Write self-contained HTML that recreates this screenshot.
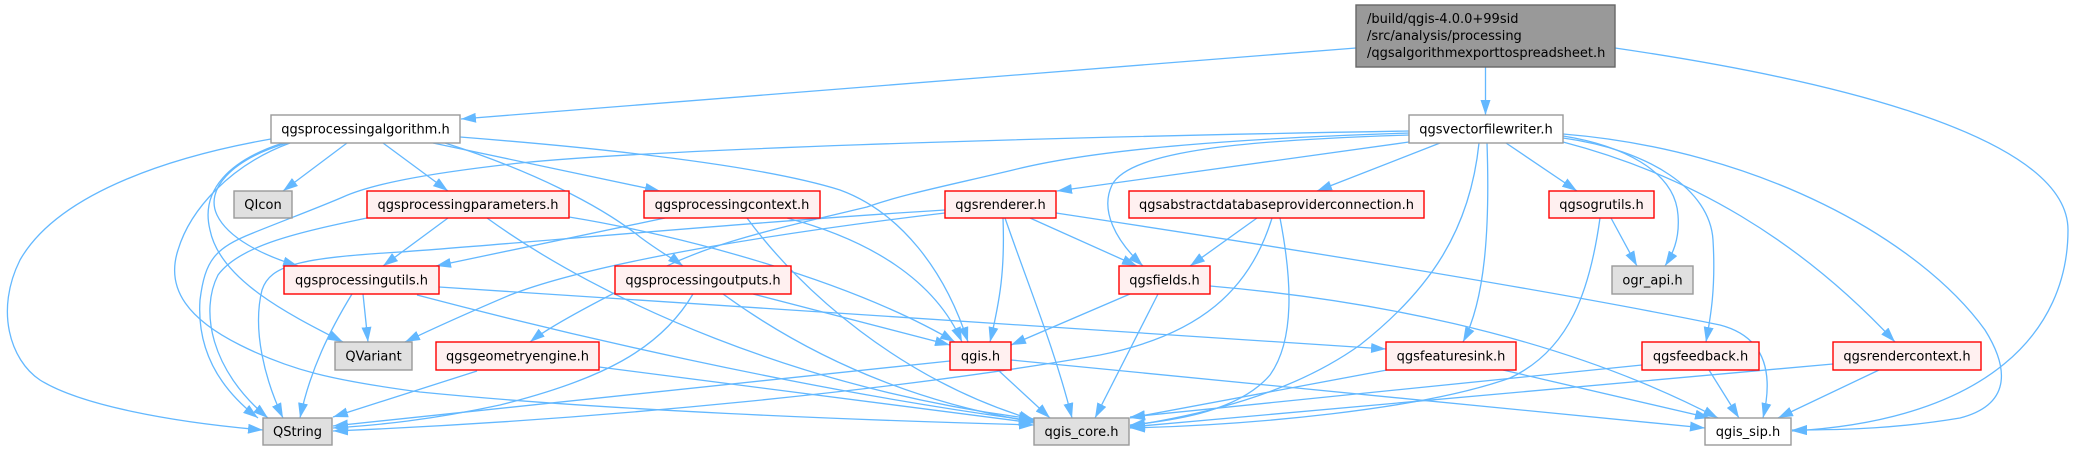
<!DOCTYPE html>
<html>
<head>
<meta charset="utf-8">
<style>
html,body{margin:0;padding:0;background:#fff;}
svg{display:block;}
.e{fill:none;stroke:#63b8ff;stroke-width:1.3;marker-end:url(#ah);}
.n text{font-family:"DejaVu Sans","Liberation Sans",sans-serif;font-size:13px;fill:#000;text-anchor:middle;}
.w{fill:#fff;stroke:#999;stroke-width:1.4;}
.g{fill:#e0e0e0;stroke:#999;stroke-width:1.4;}
.r{fill:#fff0f0;stroke:#ff0000;stroke-width:1.4;}
.t{fill:#999;stroke:#666;stroke-width:1.4;}
</style>
</head>
<body>
<svg width="2074" height="451" viewBox="0 0 2074 451" xmlns="http://www.w3.org/2000/svg">
<defs>
<marker id="ah" markerWidth="15" markerHeight="10" refX="15" refY="5" orient="auto" markerUnits="userSpaceOnUse">
<path d="M0,0 L15,5 L0,10 z" fill="#63b8ff"/>
</marker>
</defs>
<rect width="2074" height="451" fill="#fff"/>

<g>
<!-- Top node edges -->
<path class="e" d="M1356,48 L461,119"/>
<path class="e" d="M1485.5,67 L1485.5,115"/>
<path class="e" d="M1615,48 C1800,75 2068,130 2068,230 C2068,330 1990,420 1792,431"/>

<!-- qgsvectorfilewriter.h edges -->
<path class="e" d="M1409,131 C1000,138 650,150 520,163 C420,174 370,185 343,197 C320,207 280,222 253,233 C215,248 205,260 200,300 C197,345 215,385 258,418"/>
<path class="e" d="M1409,133 C1250,138 1100,148 1013,170 C950,185 900,195 867,207 C770,230 700,245 640,280 C580,310 545,330 530,342"/>
<path class="e" d="M1409,135 C1250,140 1130,150 1112,185 C1100,210 1115,240 1143,266"/>
<path class="e" d="M1409,142 L1057,191"/>
<path class="e" d="M1440,143 L1317,191"/>
<path class="e" d="M1506,143 L1577,191"/>
<path class="e" d="M1563,136 C1620,145 1675,170 1678,215 C1680,240 1672,255 1665,266"/>
<path class="e" d="M1563,138 C1650,150 1710,190 1713,240 C1716,290 1710,320 1706,342"/>
<path class="e" d="M1563,142 C1690,175 1800,240 1895,342"/>
<path class="e" d="M1563,134 C1760,150 1920,240 1985,330 C2010,370 2010,405 1960,418 C1900,428 1850,430 1792,430"/>
<path class="e" d="M1479,143 C1470,230 1430,290 1360,345 C1290,395 1200,415 1130,426"/>
<path class="e" d="M1487,143 C1490,230 1485,300 1463,342"/>

<!-- qgsprocessingalgorithm.h edges -->
<path class="e" d="M271,139 C180,155 60,190 20,260 C-5,310 10,360 40,380 C80,405 170,422 263,430"/>
<path class="e" d="M347,143 L283,191"/>
<path class="e" d="M383,143 L448,191"/>
<path class="e" d="M287,143 C230,160 205,190 217,215 C228,238 262,255 298,266"/>
<path class="e" d="M283,143 C230,160 200,190 210,230 C220,280 290,315 343,342"/>
<path class="e" d="M290,143 C230,165 190,210 178,250 C165,290 190,320 240,345 C290,370 330,380 420,392 C600,410 850,420 1034,425"/>
<path class="e" d="M433,143 L660,191"/>
<path class="e" d="M445,143 C530,170 600,205 640,237 C660,252 675,260 683,266"/>
<path class="e" d="M460,137 C600,148 760,165 840,190 C900,212 945,270 968,342"/>

<!-- qgsprocessingparameters.h -->
<path class="e" d="M367,218 C300,232 240,245 218,275 C200,310 210,370 268,418"/>
<path class="e" d="M448,218 L383,266"/>
<path class="e" d="M569,217 C680,235 850,280 955,342"/>
<path class="e" d="M487,218 C600,300 800,390 1034,419"/>

<!-- qgsprocessingcontext.h -->
<path class="e" d="M665,218 L436,266"/>
<path class="e" d="M747,218 C800,290 900,380 1034,420"/>
<path class="e" d="M787,218 C870,240 935,280 962,342"/>

<!-- qgsprocessingutils.h -->
<path class="e" d="M352,294 C330,330 310,370 300,418"/>
<path class="e" d="M363,294 L368,342"/>
<path class="e" d="M439,287 L1386,349"/>
<path class="e" d="M417,295 C550,330 800,390 1034,421"/>

<!-- qgsprocessingoutputs.h -->
<path class="e" d="M693,294 C660,350 600,380 500,405 C430,420 380,425 333,428"/>
<path class="e" d="M723,294 C800,350 900,400 1034,422"/>
<path class="e" d="M753,294 L950,345"/>

<!-- qgsgeometryengine.h -->
<path class="e" d="M477,371 L333,417"/>
<path class="e" d="M599,367 L1034,423"/>

<!-- qgis.h -->
<path class="e" d="M998,370 L1050,418"/>
<path class="e" d="M1011,360 L1705,428"/>
<path class="e" d="M950,361 L333,426"/>

<!-- qgsrenderer.h -->
<path class="e" d="M945,210 C750,222 500,245 400,252 C300,258 270,265 262,290 C252,330 265,380 283,418"/>
<path class="e" d="M945,213 C800,230 600,260 510,295 C470,312 430,330 405,342"/>
<path class="e" d="M1003,218 C1005,270 1000,300 990,342"/>
<path class="e" d="M1005,218 C1030,290 1055,350 1072,418"/>
<path class="e" d="M1030,218 L1137,266"/>
<path class="e" d="M1056,213 C1300,250 1550,290 1720,325 C1770,338 1772,380 1763,418"/>

<!-- qgsfields.h -->
<path class="e" d="M1130,294 L1011,345"/>
<path class="e" d="M1158,294 L1095,418"/>
<path class="e" d="M1210,286 C1350,298 1550,330 1718,418"/>

<!-- qgsabstractdatabaseproviderconnection.h -->
<path class="e" d="M1257,218 L1190,266"/>
<path class="e" d="M1272,218 C1250,290 1200,335 1100,355 C900,390 600,420 333,431"/>
<path class="e" d="M1280,218 C1292,280 1295,340 1270,375 C1240,410 1180,420 1130,425"/>

<!-- qgsogrutils.h -->
<path class="e" d="M1611,218 L1637,266"/>
<path class="e" d="M1600,218 C1590,290 1570,350 1510,378 C1420,410 1250,425 1130,428"/>

<!-- qgsfeaturesink.h -->
<path class="e" d="M1387,370 L1130,418"/>
<path class="e" d="M1503,370 L1710,418"/>

<!-- qgsfeedback.h -->
<path class="e" d="M1642,365 L1130,417"/>
<path class="e" d="M1709,370 L1739,418"/>

<!-- qgsrendercontext.h -->
<path class="e" d="M1833,364 L1130,427"/>
<path class="e" d="M1879,370 L1778,418"/>
</g>

<g class="n">
<rect class="t" x="1356" y="5" width="259" height="62"/>
<text x="1367" y="23" style="text-anchor:start">/build/qgis-4.0.0+99sid</text>
<text x="1367" y="40" style="text-anchor:start">/src/analysis/processing</text>
<text x="1367" y="57" style="text-anchor:start">/qgsalgorithmexporttospreadsheet.h</text>

<rect class="w" x="271" y="115" width="189" height="28"/>
<text x="365.5" y="133.5">qgsprocessingalgorithm.h</text>

<rect class="w" x="1409" y="115" width="154" height="28"/>
<text x="1486" y="133.5">qgsvectorfilewriter.h</text>

<rect class="g" x="234" y="191" width="58" height="27"/>
<text x="263" y="209">QIcon</text>

<rect class="r" x="367" y="191" width="202" height="27"/>
<text x="468" y="209">qgsprocessingparameters.h</text>

<rect class="r" x="644" y="191" width="176" height="27"/>
<text x="732" y="209">qgsprocessingcontext.h</text>

<rect class="r" x="945" y="191" width="111" height="27"/>
<text x="1000.5" y="209">qgsrenderer.h</text>

<rect class="r" x="1129" y="191" width="295" height="27"/>
<text x="1276.5" y="209">qgsabstractdatabaseproviderconnection.h</text>

<rect class="r" x="1549" y="191" width="105" height="27"/>
<text x="1601.5" y="209">qgsogrutils.h</text>

<rect class="r" x="284" y="266" width="155" height="28"/>
<text x="361.5" y="284.5">qgsprocessingutils.h</text>

<rect class="r" x="615" y="266" width="176" height="28"/>
<text x="703" y="284.5">qgsprocessingoutputs.h</text>

<rect class="r" x="1119" y="266" width="91" height="28"/>
<text x="1164.5" y="284.5">qgsfields.h</text>

<rect class="g" x="1612" y="266" width="81" height="28"/>
<text x="1652.5" y="284.5">ogr_api.h</text>

<rect class="g" x="335" y="342" width="77" height="28"/>
<text x="373.5" y="360.5">QVariant</text>

<rect class="r" x="436" y="342" width="163" height="28"/>
<text x="517.5" y="360.5">qgsgeometryengine.h</text>

<rect class="r" x="950" y="342" width="61" height="28"/>
<text x="980.5" y="360.5">qgis.h</text>

<rect class="r" x="1386" y="342" width="130" height="28"/>
<text x="1451" y="360.5">qgsfeaturesink.h</text>

<rect class="r" x="1642" y="342" width="117" height="28"/>
<text x="1700.5" y="360.5">qgsfeedback.h</text>

<rect class="r" x="1833" y="342" width="148" height="28"/>
<text x="1907" y="360.5">qgsrendercontext.h</text>

<rect class="g" x="263" y="418" width="69" height="27"/>
<text x="297.5" y="436">QString</text>

<rect class="g" x="1034" y="418" width="95" height="27"/>
<text x="1081.5" y="436">qgis_core.h</text>

<rect class="w" x="1705" y="418" width="86" height="27"/>
<text x="1748" y="436">qgis_sip.h</text>
</g>
</svg>
</body>
</html>
